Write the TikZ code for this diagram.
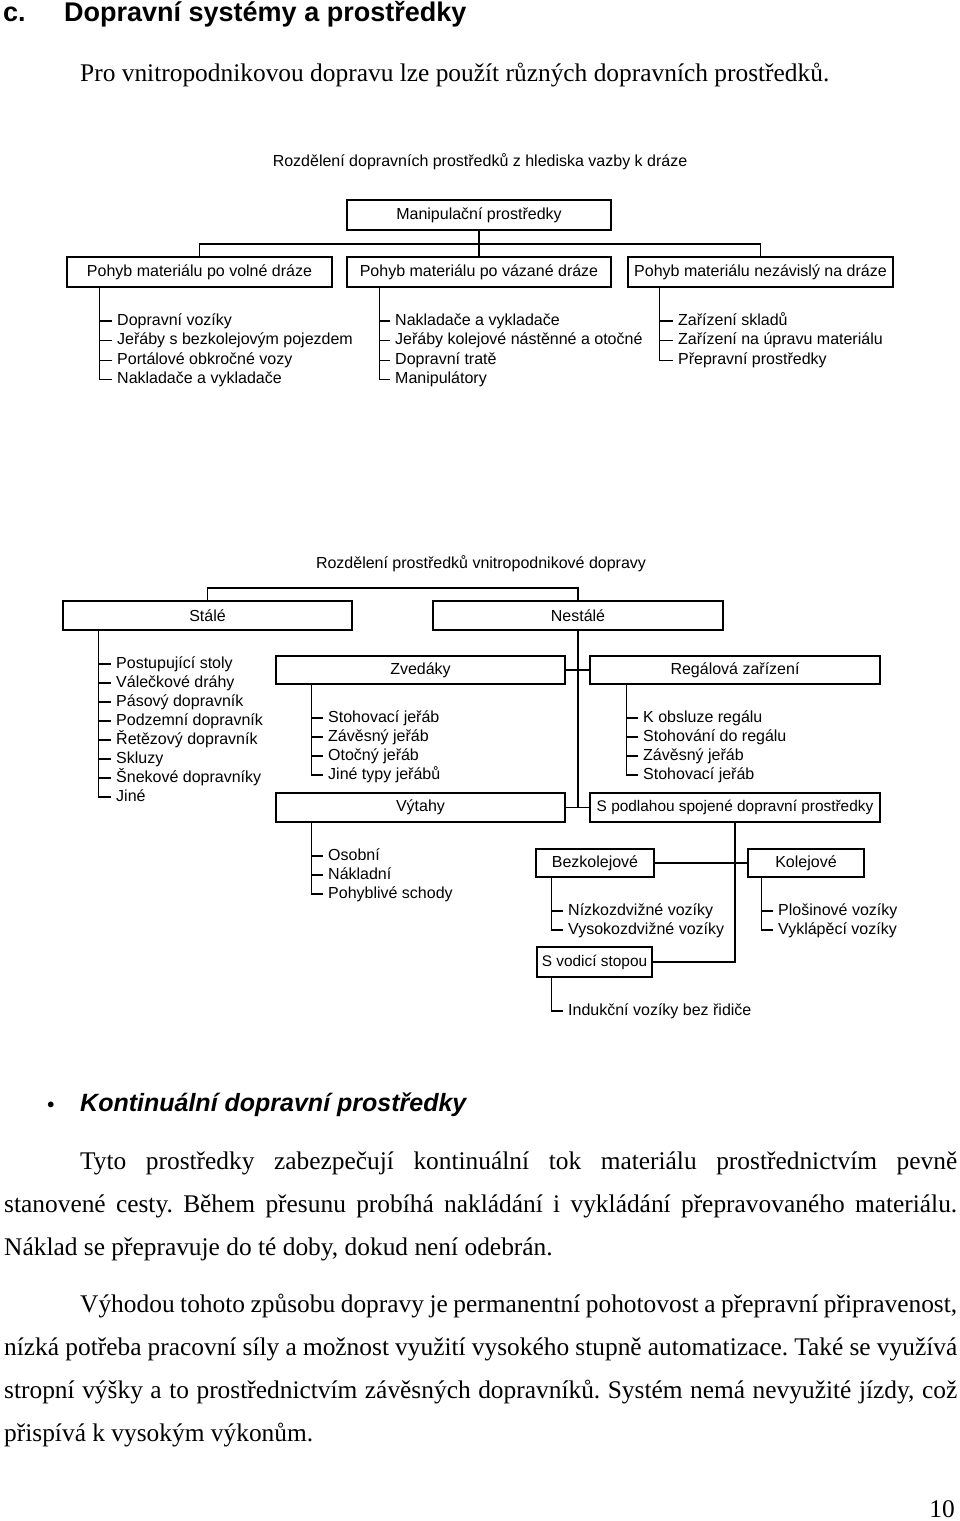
\documentclass[tikz,border=0pt]{standalone}
\usepackage{fontspec}
\setmainfont{Liberation Serif}
\newfontfamily\ars{Liberation Sans}
\newfontfamily\tms{Liberation Serif}
\newcommand\dfont{\ars\fontsize{16}{19}\selectfont}
\newcommand\sfont{\ars\fontsize{15.4}{18}\selectfont}
\newcommand\bfont{\tms\fontsize{25.4}{30}\selectfont}
\tikzset{
  box/.style={draw, line width=1.3pt, inner sep=0pt, font=\dfont},
  item/.style={anchor=west, inner sep=0pt, font=\dfont, text height=11.5pt, text depth=3.5pt},
  ln/.style={line width=1.3pt},
  body/.style={anchor=base west, inner sep=0pt, font=\bfont},
}
\frenchspacing
\begin{document}
\begin{tikzpicture}[x=1pt,y=-1pt]
\useasboundingbox[fill=white] (0,0) rectangle (960,1521);
% heading
\node[anchor=base west, inner sep=0pt, font=\ars\bfseries\fontsize{27}{31}\selectfont] (hc) at (3,21) {c.};
\node[anchor=base west, inner sep=0pt, font=\ars\bfseries\fontsize{27}{31}\selectfont] (ht) at (64,21) {Dopravní systémy a prostředky};
\node[body] (intro) at (80,81) {Pro vnitropodnikovou dopravu lze použít různých dopravních prostředků.};

% ===== diagram 1 =====
\node[inner sep=0pt, font=\dfont] (t1) at (480,162) {Rozdělení dopravních prostředků z hlediska vazby k dráze};
\node[box, minimum width=264pt, minimum height=30pt] (manip) at (479,215) {Manipulační prostředky};
\node[box, minimum width=265pt, minimum height=30pt] (lbox) at (199.5,272) {Pohyb materiálu po volné dráze};
\node[box, minimum width=264pt, minimum height=30pt] (mbox) at (479,272) {Pohyb materiálu po vázané dráze};
\node[box, minimum width=265pt, minimum height=30pt] (rbox) at (760.5,272) {Pohyb materiálu nezávislý na dráze};
\coordinate (bus1) at (479,244);
\draw[ln] (manip.south) -- (mbox.north);
\draw[ln] (lbox.north) |- (bus1) -| (rbox.north);

\foreach \t [count=\i] in {Dopravní vozíky, Jeřáby s bezkolejovým pojezdem, Portálové obkročné vozy, Nakladače a vykladače}
  \node[item] (a\i) at (117,{321+19.6*(\i-1)}) {\t};
\coordinate (av) at ([xshift=33pt]lbox.south west);
\foreach \i in {1,2,3} \draw[ln] (av |- a\i.west) -- ([xshift=-5pt]a\i.west);
\draw[ln] (av) |- ([xshift=-5pt]a4.west);

\foreach \t [count=\i] in {Nakladače a vykladače, Jeřáby kolejové nástěnné a otočné, Dopravní tratě, Manipulátory}
  \node[item] (b\i) at (395,{321+19.6*(\i-1)}) {\t};
\coordinate (bv) at ([xshift=33pt]mbox.south west);
\foreach \i in {1,2,3} \draw[ln] (bv |- b\i.west) -- ([xshift=-5pt]b\i.west);
\draw[ln] (bv) |- ([xshift=-5pt]b4.west);

\foreach \t [count=\i] in {Zařízení skladů, Zařízení na úpravu materiálu, Přepravní prostředky}
  \node[item] (c\i) at (678,{321+19.6*(\i-1)}) {\t};
\coordinate (cv) at ([xshift=32pt]rbox.south west);
\foreach \i in {1,2} \draw[ln] (cv |- c\i.west) -- ([xshift=-5pt]c\i.west);
\draw[ln] (cv) |- ([xshift=-5pt]c3.west);

% ===== diagram 2 =====
\node[inner sep=0pt, font=\dfont] (t2) at (481,564) {Rozdělení prostředků vnitropodnikové dopravy};
\node[box, minimum width=289pt, minimum height=29pt] (stale) at (207.5,615.5) {Stálé};
\node[box, minimum width=290pt, minimum height=29pt] (nest) at (578,615.5) {Nestálé};
\coordinate (bus2) at (578,588);
\draw[ln] (stale.north) |- (bus2) -- (nest.north);

\foreach \t [count=\i] in {Postupující stoly, Válečkové dráhy, Pásový dopravník, Podzemní dopravník, Řetězový dopravník, Skluzy, Šnekové dopravníky, Jiné}
  \node[item] (s\i) at (116,{664+19*(\i-1)}) {\t};
\coordinate (sv) at ([xshift=36pt]stale.south west);
\foreach \i in {1,...,7} \draw[ln] (sv |- s\i.west) -- ([xshift=-5pt]s\i.west);
\draw[ln] (sv) |- ([xshift=-5pt]s8.west);

\node[box, minimum width=289pt, minimum height=28pt] (zved) at (420.5,670) {Zvedáky};
\node[box, minimum width=290pt, minimum height=28pt] (reg) at (735,670) {Regálová zařízení};
\node[box, minimum width=289pt, minimum height=29pt] (vyt) at (420.5,807.5) {Výtahy};
\node[box, minimum width=290pt, minimum height=29pt, font=\sfont] (spod) at (735,807.5) {S podlahou spojené dopravní prostředky};
\draw[ln] (nest.south) -- (nest.south |- vyt.east);
\draw[ln] (zved.east) -- (reg.west);
\draw[ln] (vyt.east) -- (spod.west);

\foreach \t [count=\i] in {Stohovací jeřáb, Závěsný jeřáb, Otočný jeřáb, Jiné typy jeřábů}
  \node[item] (z\i) at (328,{718+19*(\i-1)}) {\t};
\coordinate (zv) at ([xshift=36pt]zved.south west);
\foreach \i in {1,2,3} \draw[ln] (zv |- z\i.west) -- ([xshift=-5pt]z\i.west);
\draw[ln] (zv) |- ([xshift=-5pt]z4.west);

\foreach \t [count=\i] in {K obsluze regálu, Stohování do regálu, Závěsný jeřáb, Stohovací jeřáb}
  \node[item] (r\i) at (643,{718+19*(\i-1)}) {\t};
\coordinate (rv) at ([xshift=37pt]reg.south west);
\foreach \i in {1,2,3} \draw[ln] (rv |- r\i.west) -- ([xshift=-5pt]r\i.west);
\draw[ln] (rv) |- ([xshift=-5pt]r4.west);

\foreach \t [count=\i] in {Osobní, Nákladní, Pohyblivé schody}
  \node[item] (v\i) at (328,{856+19*(\i-1)}) {\t};
\coordinate (vv) at ([xshift=36pt]vyt.south west);
\foreach \i in {1,2} \draw[ln] (vv |- v\i.west) -- ([xshift=-5pt]v\i.west);
\draw[ln] (vv) |- ([xshift=-5pt]v3.west);

\node[box, minimum width=118pt, minimum height=28pt] (bez) at (595,863) {Bezkolejové};
\node[box, minimum width=116pt, minimum height=28pt] (kol) at (806,863) {Kolejové};
\node[box, minimum width=115pt, minimum height=30pt, font=\sfont] (svod) at (594.5,962) {S vodicí stopou};
\draw[ln] (bez.east) -- (kol.west);
\draw[ln] (spod.south) |- (svod.east);

\foreach \t [count=\i] in {Nízkozdvižné vozíky, Vysokozdvižné vozíky}
  \node[item] (n\i) at (568,{911+19*(\i-1)}) {\t};
\coordinate (nv) at ([xshift=16pt]bez.south west);
\draw[ln] (nv |- n1.west) -- ([xshift=-5pt]n1.west);
\draw[ln] (nv) |- ([xshift=-5pt]n2.west);

\foreach \t [count=\i] in {Plošinové vozíky, Vyklápěcí vozíky}
  \node[item] (k\i) at (778,{911+19*(\i-1)}) {\t};
\coordinate (kv) at ([xshift=14pt]kol.south west);
\draw[ln] (kv |- k1.west) -- ([xshift=-5pt]k1.west);
\draw[ln] (kv) |- ([xshift=-5pt]k2.west);

\node[item] (i1) at (568,1011) {Indukční vozíky bez řidiče};
\coordinate (iv) at ([xshift=15pt]svod.south west);
\draw[ln] (iv) |- ([xshift=-5pt]i1.west);

% ===== bottom text =====
\node[anchor=base, inner sep=0pt, font=\ars\bfseries\fontsize{20}{24}\selectfont] (bul) at (51,1111) {•};
\node[anchor=base west, inner sep=0pt, font=\ars\bfseries\itshape\fontsize{25}{29}\selectfont] (kont) at (80,1111) {Kontinuální dopravní prostředky};

\node[body] (p1) at (80,1169) {\makebox[877pt][s]{Tyto prostředky zabezpečují kontinuální tok materiálu prostřednictvím pevně}};
\node[body] (p2) at (4,1212) {\makebox[953pt][s]{stanovené cesty. Během přesunu probíhá nakládání i vykládání přepravovaného materiálu.}};
\node[body] (p3) at (4,1255) {Náklad se přepravuje do té doby, dokud není odebrán.};
\node[body] (q1) at (80,1312) {\makebox[877pt][s]{Výhodou tohoto způsobu dopravy je permanentní pohotovost a přepravní připravenost,}};
\node[body] (q2) at (4,1355) {\makebox[953pt][s]{nízká potřeba pracovní síly a možnost využití vysokého stupně automatizace. Také se využívá}};
\node[body] (q3) at (4,1398) {\makebox[953pt][s]{stropní výšky a to prostřednictvím závěsných dopravníků. Systém nemá nevyužité jízdy, což}};
\node[body] (q4) at (4,1441) {přispívá k vysokým výkonům.};
\node[anchor=base east, inner sep=0pt, font=\bfont] (pg) at (955,1517) {10};
\end{tikzpicture}
\end{document}
